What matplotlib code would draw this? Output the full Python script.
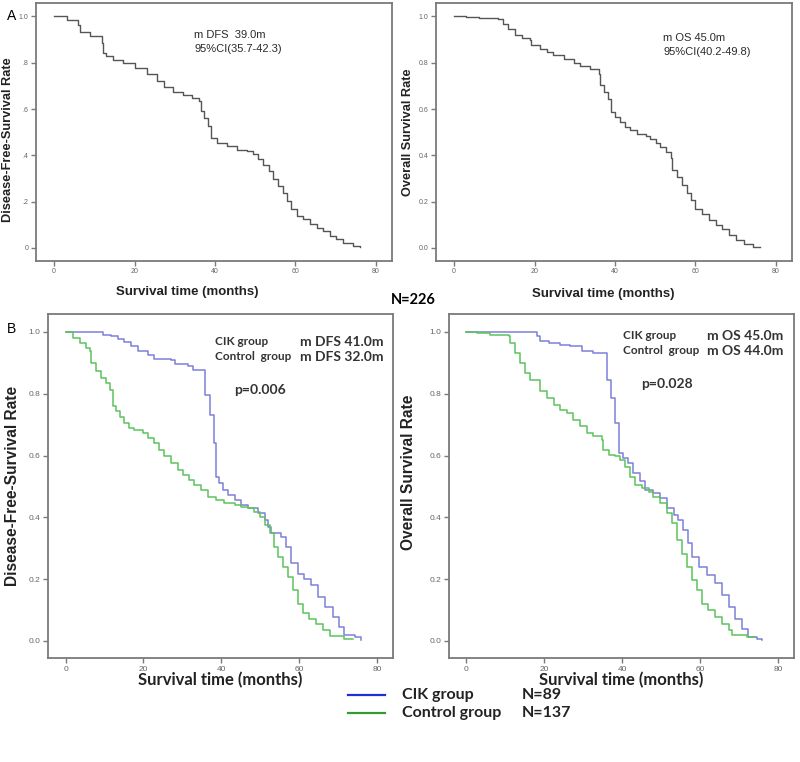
import numpy as np
import matplotlib
matplotlib.use('Agg')
import matplotlib.pyplot as plt
from matplotlib.lines import Line2D

# ---- data ----
# panel A, all patients (N=226)
dfs_all_t = [0, 3.1, 6.0, 6.4, 8.9, 11.8, 12.2, 13.0, 14.7, 17.2, 20.1, 23.0, 25.5, 27.2,
             29.6, 32.1, 34.2, 36.0, 36.4, 37.3, 38.2, 38.9, 40.4, 42.9, 45.4, 47.9, 49.5,
             50.8, 52.0, 53.3, 54.5, 55.7, 57.0, 57.8, 59.0, 60.3, 61.9, 63.6, 65.3, 66.9,
             68.6, 70.2, 71.9, 74.4, 76.0]
dfs_all_s = [1.0, 0.983, 0.964, 0.935, 0.914, 0.885, 0.842, 0.828, 0.813, 0.799, 0.777,
             0.751, 0.72, 0.694, 0.674, 0.662, 0.648, 0.634, 0.59, 0.562, 0.526, 0.476,
             0.454, 0.44, 0.425, 0.418, 0.404, 0.382, 0.36, 0.332, 0.296, 0.267, 0.238,
             0.203, 0.167, 0.138, 0.124, 0.102, 0.088, 0.073, 0.052, 0.037, 0.023, 0.006,
             0.003]

os_all_t = [0, 3.0, 6.2, 11.0, 12.2, 13.5, 15.1, 16.8, 18.9, 19.0, 21.4, 23.0, 24.7, 27.2,
            29.7, 31.4, 33.8, 35.9, 36.3, 37.3, 38.2, 39.0, 40.1, 41.3, 42.6, 43.8, 45.5,
            47.6, 48.8, 50.1, 51.3, 52.6, 53.8, 54.2, 55.5, 56.7, 57.8, 58.8, 60.0, 61.7,
            63.4, 65.0, 66.7, 68.4, 70.0, 72.1, 74.2, 76.1]
os_all_s = [1.0, 0.997, 0.993, 0.99, 0.968, 0.947, 0.921, 0.906, 0.9, 0.875, 0.858, 0.846,
            0.835, 0.817, 0.8, 0.788, 0.771, 0.753, 0.702, 0.673, 0.645, 0.587, 0.565, 0.544,
            0.522, 0.508, 0.494, 0.483, 0.469, 0.455, 0.436, 0.414, 0.388, 0.335, 0.306,
            0.27, 0.235, 0.206, 0.17, 0.148, 0.119, 0.098, 0.081, 0.055, 0.036, 0.016,
            0.004, 0.003]

# panel B, CIK group (N=89) vs control group (N=137)
dfs_cik_t = [0, 9.6, 11.7, 13.4, 15.1, 16.9, 18.6, 21.1, 22.8, 27.1, 28.0, 31.4, 32.7, 35.9,
             37.0, 38.0, 38.7, 39.5, 40.4, 41.7, 43.4, 45.1, 46.8, 49.4, 51.1, 51.9, 52.8,
             55.3, 56.6, 57.9, 59.6, 61.3, 63.0, 64.8, 66.5, 68.6, 70.3, 71.6, 74.2, 75.9]
dfs_cik_s = [1.0, 0.991, 0.986, 0.977, 0.966, 0.954, 0.937, 0.926, 0.912, 0.908, 0.897,
             0.889, 0.878, 0.797, 0.732, 0.64, 0.532, 0.51, 0.489, 0.472, 0.456, 0.44, 0.429,
             0.413, 0.391, 0.37, 0.348, 0.337, 0.305, 0.251, 0.218, 0.202, 0.181, 0.143,
             0.11, 0.078, 0.045, 0.018, 0.013, 0.004]

dfs_ctl_t = [0, 1.9, 3.6, 5.3, 6.2, 6.6, 7.9, 9.2, 10.4, 11.3, 12.1, 13.0, 13.9, 15.1, 16.4,
             17.7, 19.8, 21.1, 22.8, 24.1, 25.4, 27.1, 28.8, 30.1, 31.8, 33.1, 34.8, 36.5,
             38.7, 40.8, 43.4, 45.1, 46.8, 48.5, 49.8, 51.1, 52.4, 53.6, 54.5, 55.8, 57.1,
             58.3, 59.6, 60.9, 62.6, 64.3, 66.0, 67.8, 71.6, 73.7]
dfs_ctl_s = [1.0, 0.981, 0.964, 0.948, 0.937, 0.899, 0.872, 0.851, 0.835, 0.813, 0.759,
             0.743, 0.726, 0.705, 0.689, 0.683, 0.672, 0.656, 0.64, 0.618, 0.597, 0.575,
             0.554, 0.537, 0.521, 0.505, 0.489, 0.467, 0.456, 0.445, 0.44, 0.435, 0.429,
             0.418, 0.402, 0.375, 0.348, 0.305, 0.272, 0.24, 0.208, 0.164, 0.121, 0.089,
             0.072, 0.056, 0.035, 0.015, 0.008, 0.008]

os_cik_t = [0, 18.1, 19.0, 21.1, 24.1, 26.7, 29.7, 32.6, 36.1, 37.1, 38.2, 39.1, 40.3, 41.6,
            42.9, 44.6, 45.9, 48.0, 49.7, 51.5, 53.2, 54.4, 55.7, 57.0, 57.9, 59.6, 61.7,
            63.8, 65.6, 67.3, 69.0, 70.7, 72.4, 74.5, 75.8]
os_cik_s = [1.0, 0.986, 0.97, 0.964, 0.959, 0.954, 0.937, 0.932, 0.845, 0.786, 0.705,
            0.608, 0.591, 0.575, 0.543, 0.516, 0.489, 0.478, 0.462, 0.429, 0.408, 0.391,
            0.359, 0.316, 0.272, 0.24, 0.213, 0.186, 0.148, 0.11, 0.072, 0.04, 0.013,
            0.008, 0.004]

os_ctl_t = [0, 2.7, 6.2, 10.9, 11.3, 12.6, 13.8, 15.1, 16.4, 19.0, 20.7, 22.4, 24.1, 25.8,
            27.5, 29.2, 30.9, 32.6, 34.8, 35.2, 36.5, 38.2, 39.5, 40.8, 42.1, 43.3, 45.0,
            46.8, 48.0, 49.7, 51.5, 52.7, 54.0, 55.3, 56.6, 57.9, 59.1, 60.4, 62.1, 63.8,
            65.6, 67.3, 68.1, 72.0, 74.1]
os_ctl_s = [1.0, 0.997, 0.991, 0.986, 0.964, 0.932, 0.899, 0.867, 0.845, 0.808, 0.786,
            0.764, 0.748, 0.737, 0.716, 0.695, 0.672, 0.662, 0.651, 0.618, 0.602, 0.597,
            0.586, 0.564, 0.532, 0.505, 0.494, 0.483, 0.467, 0.445, 0.413, 0.381, 0.327,
            0.283, 0.24, 0.197, 0.164, 0.121, 0.099, 0.078, 0.056, 0.035, 0.018, 0.013,
            0.013]

xticks = [0, 20, 40, 60, 80]
yticks = [0.0, 0.2, 0.4, 0.6, 0.8, 1.0]
yticklabels_a_dfs = ['0', '.2', '.4', '.6', '.8', '1.0']
yticklabels_std = ['0.0', '0.2', '0.4', '0.6', '0.8', '1.0']

blue = '#7c80d8'
green = '#5cc45c'
grey_line = '#555555'
spine_col = '#7a7a7a'
tick_col = '#666666'
txt_col = '#222222'

plt.rcParams['font.family'] = ['Liberation Sans', 'DejaVu Sans']

fig = plt.figure(figsize=(8, 7.62), dpi=100)

# axes positions (left, bottom, width, height) in figure fractions
ax_a1 = fig.add_axes([0.045, 0.658, 0.445, 0.338])
ax_a2 = fig.add_axes([0.545, 0.658, 0.445, 0.338])
ax_b1 = fig.add_axes([0.060, 0.1365, 0.431, 0.4515])
ax_b2 = fig.add_axes([0.561, 0.1365, 0.431, 0.4515])


def style_axes(ax, tick_size, ylabels):
    ax.set_xlim(-4.5, 84)
    ax.set_ylim(-0.055, 1.058)
    ax.set_xticks(xticks)
    ax.set_yticks(yticks)
    ax.set_yticklabels(ylabels)
    for sp in ax.spines.values():
        sp.set_color(spine_col)
        sp.set_linewidth(1.3)
    ax.tick_params(axis='both', direction='out', length=3.5, width=1.0, color=spine_col,
                   labelsize=tick_size, labelcolor=tick_col, pad=2)


# ---- panel A ----
ax_a1.plot(dfs_all_t, dfs_all_s, drawstyle='steps-post', color=grey_line, lw=1.0)
style_axes(ax_a1, 5, yticklabels_a_dfs)
ax_a1.set_xlabel('Survival time (months)', fontsize=9.5, fontweight='bold', color=txt_col)
ax_a1.xaxis.set_label_coords(0.424, -0.122)
ax_a1.xaxis.label.set_va('center')
ax_a1.set_ylabel('Disease-Free-Survival Rate', fontsize=9.2, fontweight='bold', color=txt_col)
ax_a1.yaxis.set_label_coords(-0.079, 0.47)
ax_a1.yaxis.label.set_va('center')
ax_a1.text(34.8, 0.918, 'm DFS  39.0m', fontsize=8, color='#2a2a2a', va='center')
ax_a1.text(34.8, 0.858, '95%CI(35.7-42.3)', fontsize=8, color='#2a2a2a', va='center')

ax_a2.plot(os_all_t, os_all_s, drawstyle='steps-post', color=grey_line, lw=1.0)
style_axes(ax_a2, 5, yticklabels_std)
ax_a2.set_xlabel('Survival time (months)', fontsize=9.5, fontweight='bold', color=txt_col)
ax_a2.xaxis.set_label_coords(0.47, -0.128)
ax_a2.xaxis.label.set_va('center')
ax_a2.set_ylabel('Overall Survival Rate', fontsize=9.2, fontweight='bold', color=txt_col)
ax_a2.yaxis.set_label_coords(-0.079, 0.5)
ax_a2.yaxis.label.set_va('center')
ax_a2.text(52, 0.909, 'm OS 45.0m', fontsize=8, color='#2a2a2a', va='center')
ax_a2.text(52, 0.848, '95%CI(40.2-49.8)', fontsize=8, color='#2a2a2a', va='center')

# ---- panel B ----
ann_font = ['Lato', 'DejaVu Sans']

ax_b1.plot(dfs_cik_t, dfs_cik_s, drawstyle='steps-post', color=blue, lw=1.1)
ax_b1.plot(dfs_ctl_t, dfs_ctl_s, drawstyle='steps-post', color=green, lw=1.1)
style_axes(ax_b1, 6, yticklabels_std)
ax_b1.set_xlabel('Survival time (months)', fontsize=12, fontweight='bold', color=txt_col,
                 family=ann_font)
ax_b1.xaxis.set_label_coords(0.5, -0.064)
ax_b1.xaxis.label.set_va('center')
ax_b1.set_ylabel('Disease-Free-Survival Rate', fontsize=11.2, fontweight='bold', color=txt_col)
ax_b1.yaxis.set_label_coords(-0.104, 0.5)
ax_b1.yaxis.label.set_va('center')
ax_b1.text(38.3, 0.968, 'CIK group', fontsize=8.5, fontweight='bold', color='#333333',
           va='center', family=ann_font)
ax_b1.text(60.2, 0.968, 'm DFS 41.0m', fontsize=10, fontweight='bold', color='#333333',
           va='center', family=ann_font)
ax_b1.text(38.3, 0.919, 'Control  group', fontsize=8.5, fontweight='bold', color='#333333',
           va='center', family=ann_font)
ax_b1.text(60.2, 0.919, 'm DFS 32.0m', fontsize=10, fontweight='bold', color='#333333',
           va='center', family=ann_font)
ax_b1.text(43.4, 0.812, 'p=0.006', fontsize=10, fontweight='bold', color='#333333',
           va='center', family=ann_font)

ax_b2.plot(os_cik_t, os_cik_s, drawstyle='steps-post', color=blue, lw=1.1)
ax_b2.plot(os_ctl_t, os_ctl_s, drawstyle='steps-post', color=green, lw=1.1)
style_axes(ax_b2, 6, yticklabels_std)
ax_b2.set_xlabel('Survival time (months)', fontsize=12, fontweight='bold', color=txt_col,
                 family=ann_font)
ax_b2.xaxis.set_label_coords(0.5, -0.064)
ax_b2.xaxis.label.set_va('center')
ax_b2.set_ylabel('Overall Survival Rate', fontsize=11.2, fontweight='bold', color=txt_col)
ax_b2.yaxis.set_label_coords(-0.116, 0.54)
ax_b2.yaxis.label.set_va('center')
ax_b2.text(40.3, 0.987, 'CIK group', fontsize=8.5, fontweight='bold', color='#333333',
           va='center', family=ann_font)
ax_b2.text(61.8, 0.987, 'm OS 45.0m', fontsize=10, fontweight='bold', color='#333333',
           va='center', family=ann_font)
ax_b2.text(40.3, 0.939, 'Control  group', fontsize=8.5, fontweight='bold', color='#333333',
           va='center', family=ann_font)
ax_b2.text(61.8, 0.939, 'm OS 44.0m', fontsize=10, fontweight='bold', color='#333333',
           va='center', family=ann_font)
ax_b2.text(44.9, 0.832, 'p=0.028', fontsize=10, fontweight='bold', color='#333333',
           va='center', family=ann_font)

# ---- figure level labels ----
fig.text(7 / 800, 1 - 16 / 762, 'A', fontsize=10, va='center', ha='left')
fig.text(7 / 800, 1 - 329 / 762, 'B', fontsize=10, va='center', ha='left')
fig.text(413 / 800, 1 - 300 / 762, 'N=226', fontsize=10.5, fontweight='bold',
         va='center', ha='center', family=ann_font)

# legend drawn by hand to keep the two text columns
leg_rows = [('CIK group', 'N=89', '#1a2fd6', 695), ('Control group', 'N=137', '#2f9e2f', 713)]
for name, n, col, ypix in leg_rows:
    yf = 1 - ypix / 762
    fig.add_artist(Line2D([348 / 800, 385 / 800], [yf, yf], color=col, lw=1.6))
    fig.text(402 / 800, yf, name, fontsize=11.5, fontweight='bold', va='center',
             color=txt_col, family=ann_font)
    fig.text(522 / 800, yf, n, fontsize=11.5, fontweight='bold', va='center',
             color=txt_col, family=ann_font)

fig.savefig('out.png', dpi=100, facecolor='white')
